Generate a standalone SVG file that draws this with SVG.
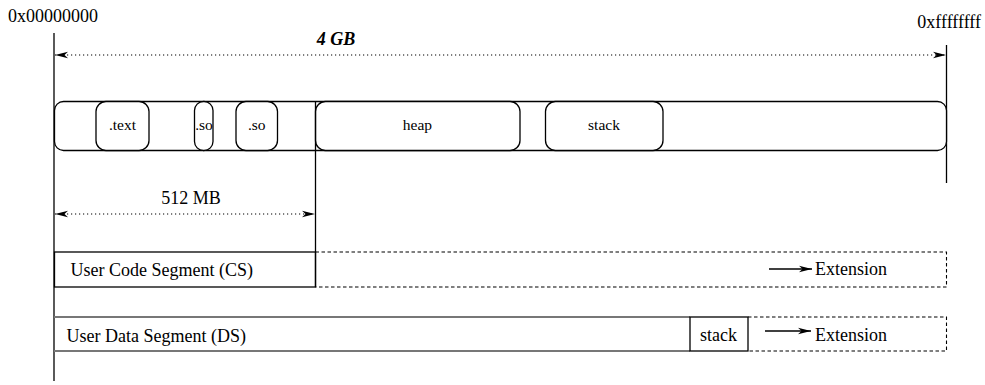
<svg xmlns="http://www.w3.org/2000/svg" width="985" height="385" viewBox="0 0 985 385">
<style>
  text { font-family: "Liberation Serif", "Times New Roman", serif; fill: #000; }
  .lbl { font-size: 18px; }
  .small { font-size: 15.5px; }
  .title { font-size: 18px; font-weight: bold; font-style: italic; }
  .ln { stroke: #000; stroke-width: 1.3; fill: none; }
  .box { stroke: #000; stroke-width: 1.3; fill: #fff; }
  .dash { stroke: #000; stroke-width: 1.1; fill: none; stroke-dasharray: 3.5 2.5; }
  .dot { stroke: #000; stroke-width: 1.1; fill: none; stroke-dasharray: 1.2 2.8; }
  .gray { stroke: #777; stroke-width: 2; fill: none; }
</style>
<defs>
  <marker id="ah" viewBox="-1 -5 15 10" markerWidth="15" markerHeight="10" refX="13" refY="0" orient="auto-start-reverse" markerUnits="userSpaceOnUse">
    <path d="M0,-3.3 L13,0 L0,3.3 L3.5,0 Z" fill="#000"/>
  </marker>
</defs>

<g id="axis">
  <line class="ln" x1="54" y1="33" x2="54" y2="381"/>
  <line class="ln" x1="946.5" y1="45" x2="946.5" y2="183"/>
  <text class="lbl" x="8" y="22">0x00000000</text>
  <text class="lbl" x="981" y="28" text-anchor="end">0xffffffff</text>
</g>

<g id="memory">
  <rect class="box" x="54.5" y="101.5" width="892" height="49" rx="9" ry="9"/>
</g>
<g id="text-seg">
  <rect class="box" x="96" y="101.5" width="53" height="49" rx="10" ry="10"/>
  <text class="small" x="122.5" y="130" text-anchor="middle">.text</text>
</g>
<g id="so1">
  <rect class="box" x="194.5" y="101.5" width="18.5" height="49" rx="9" ry="9"/>
  <text class="small" x="204" y="130" text-anchor="middle">.so</text>
</g>
<g id="so2">
  <rect class="box" x="236" y="101.5" width="41.5" height="49" rx="10" ry="10"/>
  <text class="small" x="256.8" y="130" text-anchor="middle">.so</text>
</g>
<g id="heap">
  <rect class="box" x="315.5" y="101.5" width="204.5" height="49" rx="10" ry="10"/>
  <text class="small" x="417.5" y="130" text-anchor="middle">heap</text>
</g>
<g id="stack-top">
  <rect class="box" x="545.5" y="101.5" width="117.5" height="49" rx="10" ry="10"/>
  <text class="small" x="604" y="130" text-anchor="middle">stack</text>
</g>

<g id="cs">
  <rect class="box" x="54.5" y="252" width="261" height="35"/>
  <text class="lbl" x="70.5" y="276">User Code Segment (CS)</text>
  <path class="dash" d="M315.5,252 H946.5 V287 H315.5"/>
  <text class="lbl" x="815" y="275">Extension</text>
</g>

<g id="ds">
  <line class="gray" x1="54" y1="317" x2="690" y2="317"/>
  <line class="gray" x1="54" y1="351" x2="690" y2="351"/>
  <text class="lbl" x="66.5" y="342">User Data Segment (DS)</text>
  <path class="dash" d="M748,317 H946.5 V351 H748"/>
  <text class="lbl" x="815" y="341">Extension</text>
</g>
<g id="stack-ds">
  <rect class="box" x="690" y="317" width="58" height="34"/>
  <text class="lbl" x="718.5" y="341" text-anchor="middle">stack</text>
</g>

<g id="connectors">
  <line class="ln" x1="315.5" y1="101" x2="315.5" y2="287"/>
  <line class="dot" x1="55" y1="55" x2="946" y2="55" marker-start="url(#ah)" marker-end="url(#ah)"/>
  <text class="title" x="336" y="45" text-anchor="middle">4 GB</text>
  <line class="dot" x1="55" y1="214" x2="315" y2="214" marker-start="url(#ah)" marker-end="url(#ah)"/>
  <text class="lbl" x="191" y="204" text-anchor="middle">512 MB</text>
  <line class="ln" x1="769" y1="269" x2="812" y2="269" marker-end="url(#ah)"/>
  <line class="ln" x1="765" y1="331" x2="811" y2="331" marker-end="url(#ah)"/>
</g>
</svg>
